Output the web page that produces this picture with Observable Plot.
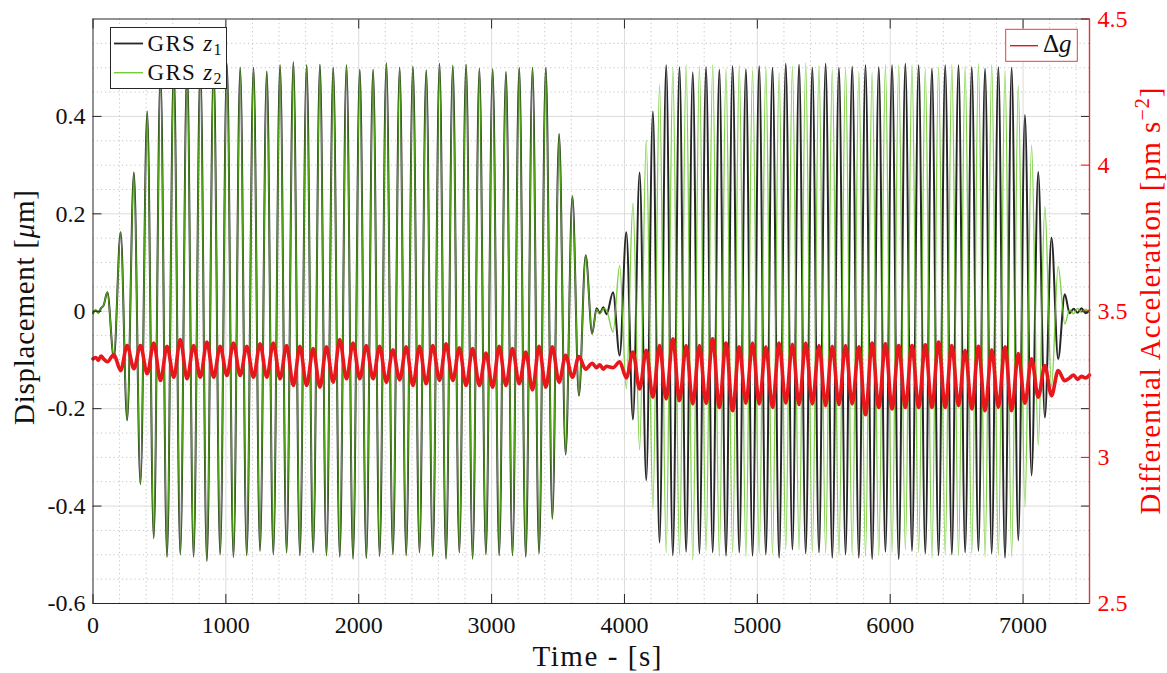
<!DOCTYPE html>
<html><head><meta charset="utf-8">
<script src="https://cdn.jsdelivr.net/npm/d3@7"></script>
<script src="https://cdn.jsdelivr.net/npm/@observablehq/plot@0.6"></script>
<style>body{margin:0;background:#fff;} #wrap{width:1167px;height:673px;}</style>
</head><body><div id="wrap"></div>
<script>
// ---------------- DATA ----------------
const period = 100; // s, oscillation period of the injected signal
// Run 1 (z1 and z2 in phase)
const seg1PeakStart = 108, seg1TroughStart = 157;
const seg1Peaks = [0.039,0.162,0.285,0.41,0.49,0.50,0.50,0.50,0.50,0.508,0.50,0.50,0.492,0.505,0.511,0.505,0.506,0.50,0.505,0.496,0.496,0.509,0.50,0.502,0.495,0.508,0.504,0.506,0.498,0.497,0.491,0.50,0.50,0.50,0.364,0.236,0.115];
const seg1Troughs = [-0.096,-0.224,-0.355,-0.466,-0.504,-0.499,-0.504,-0.513,-0.499,-0.505,-0.501,-0.492,-0.499,-0.495,-0.501,-0.495,-0.501,-0.504,-0.508,-0.507,-0.503,-0.499,-0.501,-0.495,-0.503,-0.508,-0.495,-0.508,-0.499,-0.501,-0.501,-0.504,-0.497,-0.426,-0.294,-0.173,-0.046];
// Run 2 (z1 and z2 in antiphase)
const seg2StartA = 3914, seg2StartB = 3964;
const z1Seg2Peaks = [0.039,0.162,0.285,0.41,0.505,0.501,0.49,0.501,0.496,0.503,0.497,0.503,0.50,0.508,0.506,0.50,0.508,0.50,0.502,0.505,0.501,0.505,0.508,0.505,0.498,0.505,0.505,0.501,0.498,0.501,0.50,0.403,0.286,0.151,0.035];      // at seg2StartA + k*period
const z1Seg2Troughs = [-0.091,-0.222,-0.347,-0.475,-0.501,-0.494,-0.497,-0.495,-0.502,-0.495,-0.502,-0.499,-0.506,-0.489,-0.497,-0.495,-0.506,-0.499,-0.506,-0.509,-0.494,-0.509,-0.492,-0.497,-0.501,-0.499,-0.495,-0.492,-0.497,-0.506,-0.470,-0.337,-0.218,-0.098]; // at seg2StartB + k*period
const z2Seg2Peaks = [0.094,0.222,0.351,0.465,0.50,0.506,0.503,0.506,0.498,0.505,0.496,0.503,0.49,0.503,0.51,0.505,0.496,0.50,0.492,0.491,0.506,0.505,0.506,0.498,0.501,0.506,0.503,0.508,0.506,0.495,0.463,0.341,0.215,0.092]; // at seg2StartB + k*period
const z2Seg2Troughs = [-0.043,-0.159,-0.284,-0.405,-0.496,-0.501,-0.511,-0.492,-0.503,-0.495,-0.504,-0.497,-0.499,-0.489,-0.490,-0.495,-0.497,-0.501,-0.499,-0.503,-0.501,-0.495,-0.490,-0.495,-0.506,-0.499,-0.501,-0.497,-0.504,-0.501,-0.504,-0.402,-0.275,-0.155,-0.026]; // at seg2StartA + k*period
// Quiet stretches
const quietStartT = [0,20,40,60,80];
const quietStartZ = [-0.004,0.002,-0.003,0.006,0.012];
const quietMidT = [3790,3815,3840,3865];
const quietMidZ1 = [0.006,-0.004,0.008,-0.006];
const quietMidZ2 = [0.004,-0.006,0.006,0.002];
const quietEndT = [7350,7380,7410,7440,7470,7500];
const quietEndZ1 = [-0.004,0.005,-0.003,0.006,-0.004,0.002];
const quietEndZ2 = [0.003,-0.005,0.006,-0.002,0.004,-0.003];
// Differential acceleration [pm s^-2]
const dgSeg1Low = [3.327,3.297,3.303,3.286,3.263,3.274,3.269,3.274,3.274,3.280,3.280,3.274,3.274,3.269,3.246,3.246,3.240,3.257,3.269,3.269,3.269,3.257,3.265,3.246,3.252,3.263,3.263,3.246,3.246,3.240,3.246,3.252,3.231,3.240,3.257,3.274,3.302];   // at seg1PeakStart + k*period
const dgSeg1High = [3.352,3.383,3.383,3.391,3.380,3.403,3.383,3.395,3.380,3.391,3.380,3.389,3.391,3.383,3.380,3.372,3.378,3.403,3.391,3.383,3.380,3.368,3.378,3.380,3.383,3.389,3.375,3.372,3.357,3.380,3.372,3.360,3.380,3.378,3.349,3.345,3.322]; // at seg1TroughStart + k*period
const dgSeg2Low = [3.307,3.272,3.234,3.206,3.200,3.194,3.183,3.185,3.171,3.160,3.185,3.183,3.171,3.185,3.181,3.183,3.177,3.181,3.183,3.146,3.171,3.166,3.171,3.171,3.171,3.171,3.177,3.166,3.160,3.171,3.160,3.185,3.206,3.211,3.262]; // at seg2StartA + k*period
const dgSeg2High = [3.327,3.360,3.366,3.383,3.406,3.383,3.383,3.406,3.391,3.378,3.391,3.378,3.391,3.387,3.391,3.383,3.380,3.383,3.378,3.391,3.389,3.383,3.383,3.385,3.395,3.383,3.366,3.380,3.368,3.378,3.355,3.337,3.314,3.297]; // at seg2StartB + k*period
const dgQuietStart = [3.337,3.342,3.332,3.347,3.337];
const dgQuietMid = [3.307,3.317,3.302,3.312];
const dgQuietEnd = [3.272,3.282,3.267,3.277,3.272,3.282];
// Axes
const xTicks = [0,1000,2000,3000,4000,5000,6000,7000];
const yTicks = [-0.6,-0.4,-0.2,0,0.2,0.4];
const dgTicks = [2.5,3,3.5,4,4.5];

// ---------------- BUILD SERIES ----------------
const seq = (start, vals) => vals.map((v, k) => ({t: start + k * period, v}));
const pts = (ts, vs) => ts.map((t, i) => ({t, v: vs[i]}));
const byT = arr => arr.sort((a, b) => a.t - b.t);
const z1 = byT([...pts(quietStartT, quietStartZ), ...seq(seg1PeakStart, seg1Peaks), ...seq(seg1TroughStart, seg1Troughs),
  ...pts(quietMidT, quietMidZ1), ...seq(seg2StartA, z1Seg2Peaks), ...seq(seg2StartB, z1Seg2Troughs), ...pts(quietEndT, quietEndZ1)]);
const z2 = byT([...pts(quietStartT, quietStartZ), ...seq(seg1PeakStart, seg1Peaks), ...seq(seg1TroughStart, seg1Troughs),
  ...pts(quietMidT, quietMidZ2), ...seq(seg2StartB, z2Seg2Peaks), ...seq(seg2StartA, z2Seg2Troughs), ...pts(quietEndT, quietEndZ2)]);
const dg = byT([...pts(quietStartT, dgQuietStart), ...seq(seg1PeakStart, dgSeg1Low), ...seq(seg1TroughStart, dgSeg1High),
  ...pts(quietMidT, dgQuietMid), ...seq(seg2StartA, dgSeg2Low), ...seq(seg2StartB, dgSeg2High), ...pts(quietEndT, dgQuietEnd)]);

// right axis (2.5..4.5) mapped onto left axis (-0.6..0.6)
const dgToY = g => (g - 3.5) * 0.6;
const yToDg = y => y / 0.6 + 3.5;
const fmt = v => String(Math.round(v * 10) / 10);

const xMinor = d3.range(200, 7500, 200).filter(d => d % 1000 !== 0);
const yMinor = d3.range(-0.55, 0.6, 0.05).map(d => Math.round(d * 100) / 100).filter(d => Math.abs(Math.round(d * 100)) % 20 !== 0);

const FONT = '"Liberation Serif", "Times New Roman", serif';
const RED = "#ff0000";

const chart = Plot.plot({
  width: 1167, height: 673,
  marginLeft: 92.5, marginRight: 78, marginTop: 18.5, marginBottom: 70,
  x: {domain: [0, 7500]},
  y: {domain: [-0.6, 0.6]},
  style: {fontFamily: FONT, fontSize: "24px", background: "#fff", overflow: "visible"},
  marks: [
    Plot.ruleX(xMinor, {stroke: "#c4c4c4", strokeDasharray: "1.2,3", strokeWidth: 1}),
    Plot.ruleY(yMinor, {stroke: "#c4c4c4", strokeDasharray: "1.2,3", strokeWidth: 1}),
    Plot.ruleX(xTicks.slice(1), {stroke: "#dcdcdc", strokeWidth: 1}),
    Plot.ruleY(yTicks.slice(1), {stroke: "#dcdcdc", strokeWidth: 1}),
    Plot.line(z1, {x: "t", y: "v", stroke: "#262626", strokeWidth: 2, curve: "monotone-x"}),
    Plot.line(z2, {x: "t", y: "v", stroke: "#5cc414", strokeWidth: 1.4, strokeOpacity: 0.78, curve: "monotone-x"}),
    Plot.line(dg, {x: "t", y: d => dgToY(d.v), stroke: "#e8171c", strokeWidth: 3.6, curve: "monotone-x", strokeLinejoin: "round"}),
    Plot.axisX({anchor: "bottom", ticks: xTicks, tickSize: -9, tickPadding: 21, tickFormat: d => String(d), label: null, stroke: "#262626", fill: "#111"}),
    Plot.axisX({anchor: "top", ticks: xTicks, tickSize: -9, tickFormat: () => "", label: null, stroke: "#262626"}),
    Plot.axisY({anchor: "left", ticks: yTicks, tickSize: -9, tickPadding: 16.5, tickFormat: fmt, label: null, stroke: "#262626", fill: "#111"}),
    Plot.axisY({anchor: "right", ticks: yTicks, tickSize: -9, tickFormat: () => "", label: null, stroke: "#262626"}),
    Plot.axisY({anchor: "right", ticks: dgTicks.map(dgToY), tickSize: -9, tickPadding: 17, tickFormat: d => fmt(yToDg(d)), label: null, stroke: RED, fill: RED}),
    Plot.ruleX([0], {stroke: "#262626", strokeWidth: 1}),
    Plot.ruleY([-0.6, 0.6], {stroke: "#262626", strokeWidth: 1}),
    Plot.ruleX([7500], {stroke: "#d43a3a", strokeWidth: 1.4})
  ]
});
document.getElementById("wrap").appendChild(chart);

// ---------------- TITLES & LEGENDS ----------------
const svg = d3.select(chart);
const g = svg.append("g").attr("font-family", FONT).attr("text-anchor", "start");
g.append("text").attr("x", 597).attr("y", 666).attr("text-anchor", "middle").attr("font-size", 29)
  .attr("fill", "#111").attr("textLength", 129).attr("lengthAdjust", "spacing").text("Time - [s]");
const lt = g.append("text").attr("transform", "translate(33.5,307.5) rotate(-90)").attr("text-anchor", "middle")
  .attr("font-size", 29).attr("fill", "#111").attr("textLength", 235).attr("lengthAdjust", "spacing");
lt.append("tspan").text("Displacement [");
lt.append("tspan").attr("font-style", "italic").text("μ");
lt.append("tspan").text("m]");
const rt = g.append("text").attr("transform", "translate(1160,301) rotate(-90)").attr("text-anchor", "middle")
  .attr("font-size", 29).attr("fill", RED).attr("textLength", 427).attr("lengthAdjust", "spacing");
rt.append("tspan").text("Differential Acceleration [pm s");
rt.append("tspan").attr("font-size", 20).attr("dy", -11).text("−2");
rt.append("tspan").attr("dy", 11).text("]");

// legend 1
g.append("rect").attr("x", 110.5).attr("y", 27.5).attr("width", 116).attr("height", 61)
  .attr("fill", "#fff").attr("stroke", "#262626").attr("stroke-width", 1);
const legRows = [{y: 43.5, c: "#262626", w: 1.8, op: 1, sub: "1"}, {y: 72.7, c: "#5cc414", w: 1.4, op: 0.85, sub: "2"}];
legRows.forEach(r => {
  g.append("line").attr("x1", 114).attr("x2", 143).attr("y1", r.y).attr("y2", r.y)
    .attr("stroke", r.c).attr("stroke-width", r.w).attr("stroke-opacity", r.op);
  const t = g.append("text").attr("x", 147.5).attr("y", r.y + 7).attr("font-size", 23).attr("fill", "#111")
    .attr("textLength", 74).attr("lengthAdjust", "spacing");
  t.append("tspan").text("GRS ");
  t.append("tspan").attr("font-style", "italic").text("z");
  t.append("tspan").attr("font-size", 16).attr("dy", 4).text(r.sub);
});
// legend 2
g.append("rect").attr("x", 1005.7).attr("y", 29.3).attr("width", 71.6).attr("height", 32)
  .attr("fill", "#fff").attr("stroke", "#f03c3c").attr("stroke-width", 1);
g.append("line").attr("x1", 1010).attr("x2", 1038).attr("y1", 45.7).attr("y2", 45.7)
  .attr("stroke", "#e8171c").attr("stroke-width", 1.4);
const t2 = g.append("text").attr("x", 1043).attr("y", 52).attr("font-size", 25).attr("fill", "#111");
t2.append("tspan").text("Δ");
t2.append("tspan").attr("font-style", "italic").text("g");
</script>
</body></html>
